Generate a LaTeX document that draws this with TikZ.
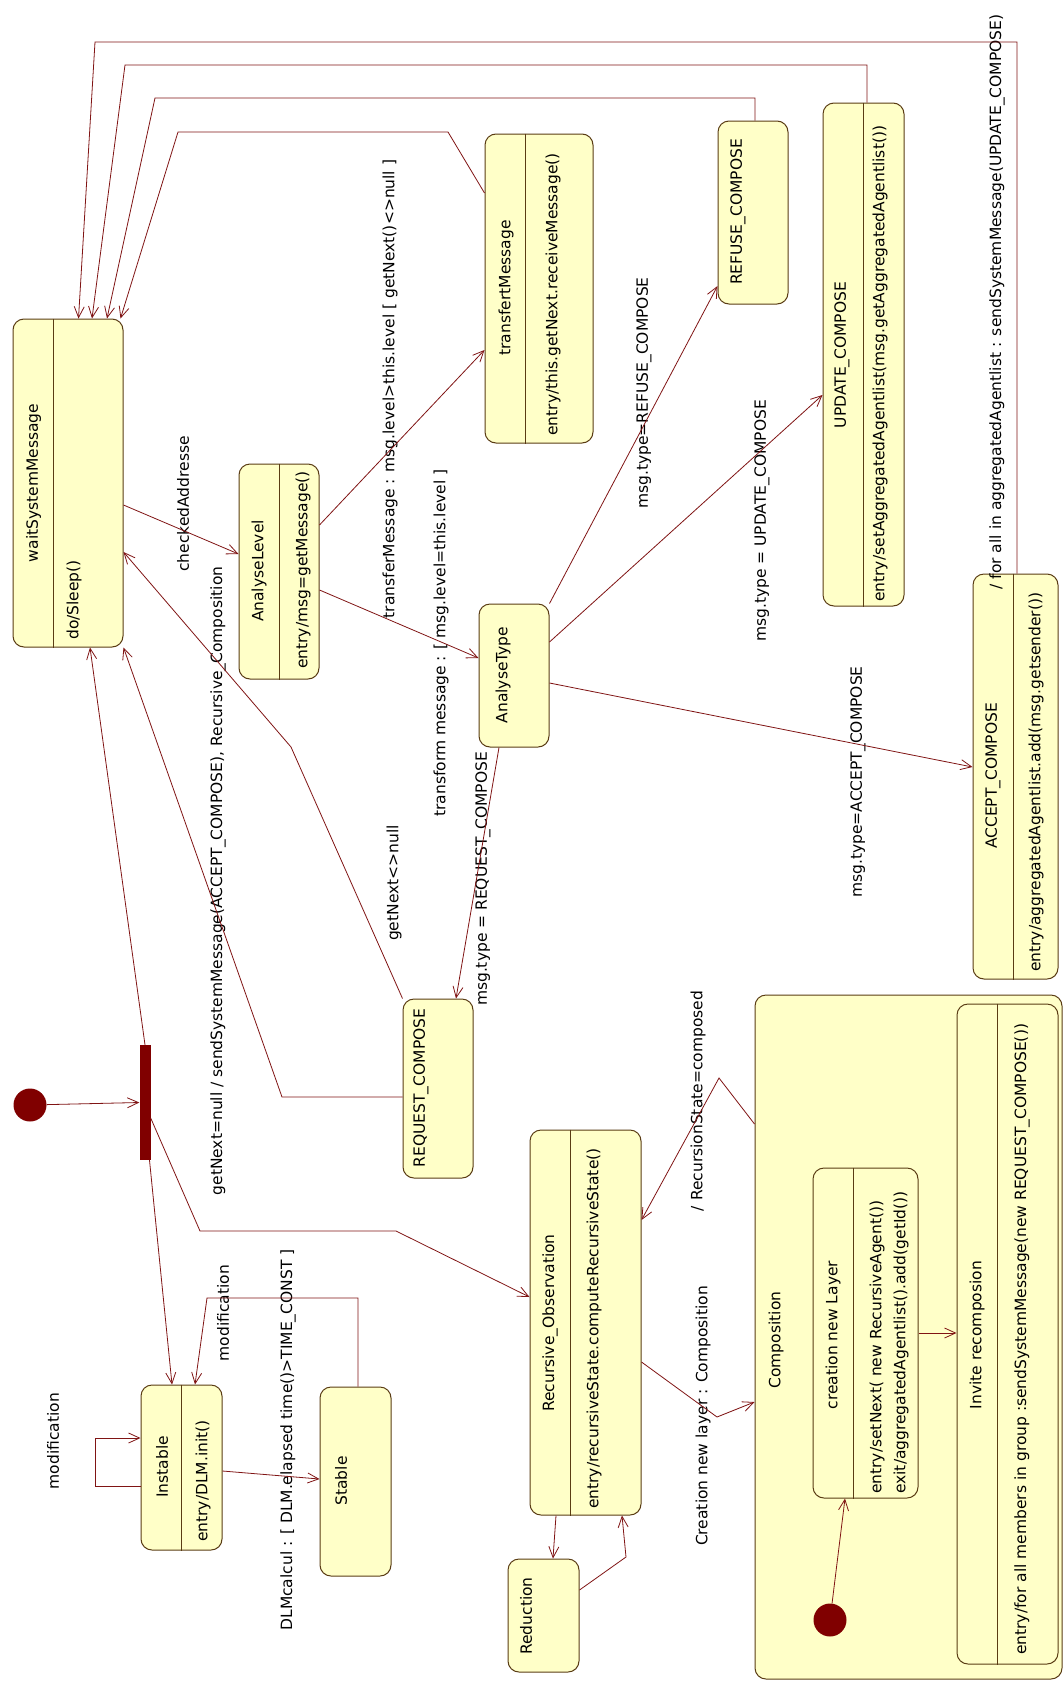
\documentclass[tikz,border=0pt]{standalone}
\usepackage{fontspec}
\setmainfont{DejaVu Sans}
\usetikzlibrary{arrows.meta}
\definecolor{statefill}{RGB}{255,255,200}
\definecolor{stateline}{RGB}{90,60,20}
\definecolor{transline}{RGB}{128,20,20}
\definecolor{pseudo}{RGB}{128,0,0}

\begin{document}
\begin{tikzpicture}[x=1pt, y=-1pt, font=\fontsize{15.5}{18}\selectfont,
    state/.style={draw=stateline, fill=statefill, rounded corners=11pt, line width=1pt, inner sep=0pt},
    txt/.style={rotate=90, inner sep=0pt},
    tr/.style={draw=transline, line width=0.8pt, -{Straight Barb[length=11pt, width=10pt]}},
    dot/.style={circle, fill=pseudo, minimum size=33pt, inner sep=0pt}]
    \useasboundingbox[fill=white] (0,0) rectangle (1063,1681);

    \node[state, minimum width=110pt, minimum height=328pt] (wait) at (68,483) {};
    \node[state, minimum width=80pt, minimum height=215pt] (anl) at (279,571.5) {};
    \node[state, minimum width=108pt, minimum height=309pt] (trf) at (539,288.5) {};
    \node[state, minimum width=70pt, minimum height=143pt] (aty) at (514,675.5) {};
    \node[state, minimum width=70pt, minimum height=183pt] (ref) at (753,212.5) {};
    \node[state, minimum width=81pt, minimum height=503pt] (upd) at (863.5,354.5) {};
    \node[state, minimum width=85pt, minimum height=405pt] (acc) at (1015.5,776.5) {};
    \node[state, minimum width=70pt, minimum height=179pt] (req) at (438,1088.5) {};
    \node[state, minimum width=81pt, minimum height=165pt] (ins) at (181.5,1467.5) {};
    \node[state, minimum width=71pt, minimum height=189pt] (stb) at (355.5,1481.5) {};
    \node[state, minimum width=111pt, minimum height=385pt] (ro) at (585.5,1322.5) {};
    \node[state, minimum width=71pt, minimum height=113pt] (red) at (543.5,1615.5) {};
    \node[state, minimum width=307pt, minimum height=684pt] (comp) at (908.5,1337) {};
    \node[state, minimum width=105pt, minimum height=330pt] (crt) at (865.5,1333) {};
    \node[state, minimum width=101pt, minimum height=660pt] (inv) at (1007.5,1334) {};
    \node[dot] (init) at (30,1105) {};
    \node[dot] (cinit) at (830,1620) {};
    \node[fill=pseudo, minimum width=11pt, minimum height=115pt, inner sep=0pt] (bar) at (145,1102.5) {};

    % compartments
    \foreach \b in {wait,anl,trf,upd,acc,ins,ro,crt,inv}
        \draw[stateline, line width=1pt] ([xshift=41pt]\b.north west) -- ([xshift=41pt]\b.south west);

    \node[txt] (waitname) at (33.5,483) {waitSystemMessage};
    \node[txt, anchor=west] (waitdo) at (74,640) {do/Sleep()};
    \node[txt] (anlname) at (259,571) {AnalyseLevel};
    \node[txt, anchor=west] (anldo) at (303,669) {entry/msg=getMessage()};
    \node[txt] (trfname) at (506,288) {transfertMessage};
    \node[txt, anchor=west] (trfdo) at (553,436) {entry/this.getNext.receiveMessage()};
    \node[txt] (atyname) at (503,675) {AnalyseType};
    \node[txt] (refname) at (738,212) {REFUSE\_COMPOSE};
    \node[txt] (updname) at (842,355) {UPDATE\_COMPOSE};
    \node[txt, anchor=west] (upddo) at (880,602) {entry/setAggregatedAgentlist(msg.getAggregatedAgentlist())};
    \node[txt] (accname) at (993,776) {ACCEPT\_COMPOSE};
    \node[txt, anchor=west] (accdo) at (1036,972) {entry/aggregatedAgentlist.add(msg.getsender())};
    \node[txt] (reqname) at (421,1088) {REQUEST\_COMPOSE};
    \node[txt] (insname) at (162,1467) {Instable};
    \node[txt, anchor=west] (insdo) at (203,1542) {entry/DLM.init()};
    \node[txt] (stbname) at (341,1481) {Stable};
    \node[txt] (roname) at (550,1323) {Recursive\_Observation};
    \node[txt, anchor=west] (rodo) at (594,1509) {entry/recursiveState.computeRecursiveState()};
    \node[txt] (redname) at (526,1616) {Reduction};
    \node[txt] (compname) at (776,1340) {Composition};
    \node[txt] (crtname) at (833,1335) {creation new Layer};
    \node[txt, anchor=west] (crtdo) at (877,1494) {entry/setNext( new RecursiveAgent())};
    \node[txt, anchor=west] (crtexit) at (901,1494) {exit/aggregatedAgentlist().add(getId())};
    \node[txt] (invname) at (977,1335) {Invite recomposion};
    \node[txt, anchor=west] (invdo) at (1022,1655) {entry/for all members in group :sendSystemMessage(new REQUEST\_COMPOSE())};

    % transition labels
    \node[txt] (lchk) at (183,504) {checkedAddresse};
    \node[txt] (lnull) at (218,881) {getNext=null / sendSystemMessage(ACCEPT\_COMPOSE), Recursive\_Composition};
    \node[txt] (lnext) at (394,883) {getNext<>null};
    \node[txt] (ltrf) at (390,389) {transferMessage : msg.level>this.level [ getNext()<>null ]};
    \node[txt] (ltrm) at (441,643) {transform message : [ msg.level=this.level ]};
    \node[txt] (lreq) at (483,879) {msg.type = REQUEST\_COMPOSE};
    \node[txt] (lref) at (644,393) {msg.type=REFUSE\_COMPOSE};
    \node[txt] (lupd) at (762,521) {msg.type = UPDATE\_COMPOSE};
    \node[txt] (lacc) at (858,782) {msg.type=ACCEPT\_COMPOSE};
    \node[txt] (lfor) at (997,302) {/ for all in aggregatedAgentlist : sendSystemMessage(UPDATE\_COMPOSE)};
    \node[txt] (lcmp) at (698,1101) {/ RecursionState=composed};
    \node[txt] (lcre) at (703,1416) {Creation new layer : Composition};
    \node[txt] (lmod) at (53,1441) {modification};
    \node[txt] (lmod2) at (223,1313) {modification};
    \node[txt] (ldlm) at (288,1440) {DLMcalcul : [ DLM.elapsed time()>TIME\_CONST ]};

    % back to waitSystemMessage
    \coordinate (r1) at (95,42);
    \coordinate (r2) at (125,65);
    \coordinate (r3) at (155,98);
    \coordinate (r4) at (178,132);
    \coordinate (r4b) at (448,132);
    \draw[tr] ([xshift=1.5pt]acc.north) |- (r1) -- ([xshift=10.5pt]wait.north);
    \draw[tr] ([xshift=3.5pt]upd.north) |- (r2) -- ([xshift=24pt]wait.north);
    \draw[tr] ([xshift=2pt]ref.north) |- (r3) -- ([xshift=39pt]wait.north);
    \draw[tr] ([yshift=95.5pt]trf.west) -- (r4b) -- (r4) -- ([xshift=52.5pt]wait.north);

    \draw[tr] ([yshift=-22pt]wait.east) -- ([yshift=17.5pt]anl.west);
    \draw[tr] ([yshift=46.5pt]anl.east) -- ([yshift=-61.5pt]trf.west);
    \draw[tr] ([yshift=-18.5pt]anl.east) -- ([yshift=17.5pt]aty.west);
    \draw[tr] (aty.north east) -- ([yshift=-73.5pt]ref.west);
    \draw[tr] ([yshift=33.5pt]aty.east) -- ([yshift=-40.5pt]upd.west);
    \draw[tr] ([yshift=-7.5pt]aty.east) -- ([yshift=9.5pt]acc.west);
    \draw[tr] ([xshift=-15pt]aty.south) -- ([xshift=18pt]req.north);

    \coordinate (g1) at (291,747);
    \coordinate (g2) at (282,1097);
    \draw[tr] (req.north west) -- (g1) -- ([yshift=-69pt]wait.east);
    \draw[tr] ([yshift=-8.5pt]req.west) -- (g2) -- (wait.south east);

    % fork
    \draw[tr] (init) -- (bar.west);
    \draw[tr] (bar.north) -- ([xshift=22pt]wait.south);
    \draw[tr] ([xshift=4.5pt]bar.south) -- ([xshift=-9.5pt]ins.north);
    \coordinate (b1) at (200,1231);
    \coordinate (b2) at (396,1231);
    \draw[tr] ([yshift=-15.5pt]bar.east) -- (b1) -- (b2) -- ([yshift=25.5pt]ro.west);

    \coordinate (loop) at (95,1438);
    \coordinate (m1) at (207,1298);
    \draw[tr] ([yshift=-18.5pt]ins.west) -| (loop) -- ([yshift=29.5pt]ins.west);
    \draw[tr] ([xshift=2.5pt]stb.north) |- (m1) -- ([xshift=13.5pt]ins.north);
    \draw[tr] ([yshift=-3.5pt]ins.east) -- ([yshift=2.5pt]stb.west);

    \coordinate (d1) at (626,1557);
    \coordinate (k1) at (717,1417);
    \coordinate (k2) at (719,1078);
    \draw[tr] ([xshift=-29.5pt]ro.south) -- ([xshift=9.5pt]red.north);
    \draw[tr] ([yshift=25.5pt]red.east) -- (d1) -- ([xshift=36.5pt]ro.south);
    \draw[tr] ([yshift=-39.5pt]ro.east) -- (k1) -- ([yshift=-65pt]comp.west);
    \draw[tr] ([yshift=213pt]comp.west) -- (k2) -- ([yshift=102.5pt]ro.east);
    \draw[tr] (cinit) -- ([xshift=-20.5pt]crt.south);
    \draw[tr] (crt.east) -- (crt.east -| inv.west);
\end{tikzpicture}
\end{document}
